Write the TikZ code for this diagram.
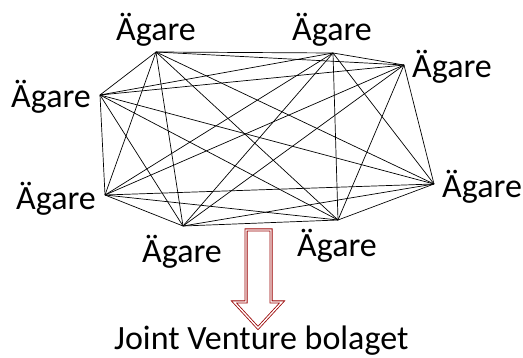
\documentclass[tikz,border=0pt]{standalone}
\usepackage{fontspec}
\setmainfont{Carlito}
\usepackage{tikz}
\usetikzlibrary{calc}
\tikzstyle{owner} = [anchor=base west, inner sep=0pt, font=\fontsize{34}{40}\selectfont]
\tikzstyle{link} = [line width=0.7pt, black]

\begin{document}
\begin{tikzpicture}[x=1pt,y=-1pt]
\useasboundingbox (0,0) rectangle (523,358);

% Corner points of the network
\coordinate (p1) at (156,52);
\coordinate (p2) at (333,53);
\coordinate (p3) at (404,65);
\coordinate (p4) at (434,184);
\coordinate (p5) at (338,220);
\coordinate (p6) at (183,226);
\coordinate (p7) at (105,195);
\coordinate (p8) at (100,95);

% Every owner linked to every other
\foreach \i in {1,...,8} {
  \foreach \j in {1,...,8} {
    \ifnum\i<\j
      \draw[link] (p\i) -- (p\j);
    \fi
  }
}

% Owner labels
\node[owner] (o1) at (116,41) {Ägare};
\node[owner] (o2) at (292,41) {Ägare};
\node[owner] (o3) at (412,78) {Ägare};
\node[owner] (o4) at (442,198) {Ägare};
\node[owner] (o5) at (297,257) {Ägare};
\node[owner] (o6) at (142,263) {Ägare};
\node[owner] (o7) at (16,210) {Ägare};
\node[owner] (o8) at (11,108) {Ägare};

% Hollow arrow down to the company
\draw[red!60!black, line width=0.8pt, double=white, double distance=1.4pt, fill=white]
  (246,230) -- (271,230) -- (271,302) -- (282,302) -- (258,328)
  -- (234,302) -- (246,302) -- cycle;

\node[owner] (jv) at (114,350) {Joint Venture bolaget};
\end{tikzpicture}
\end{document}
